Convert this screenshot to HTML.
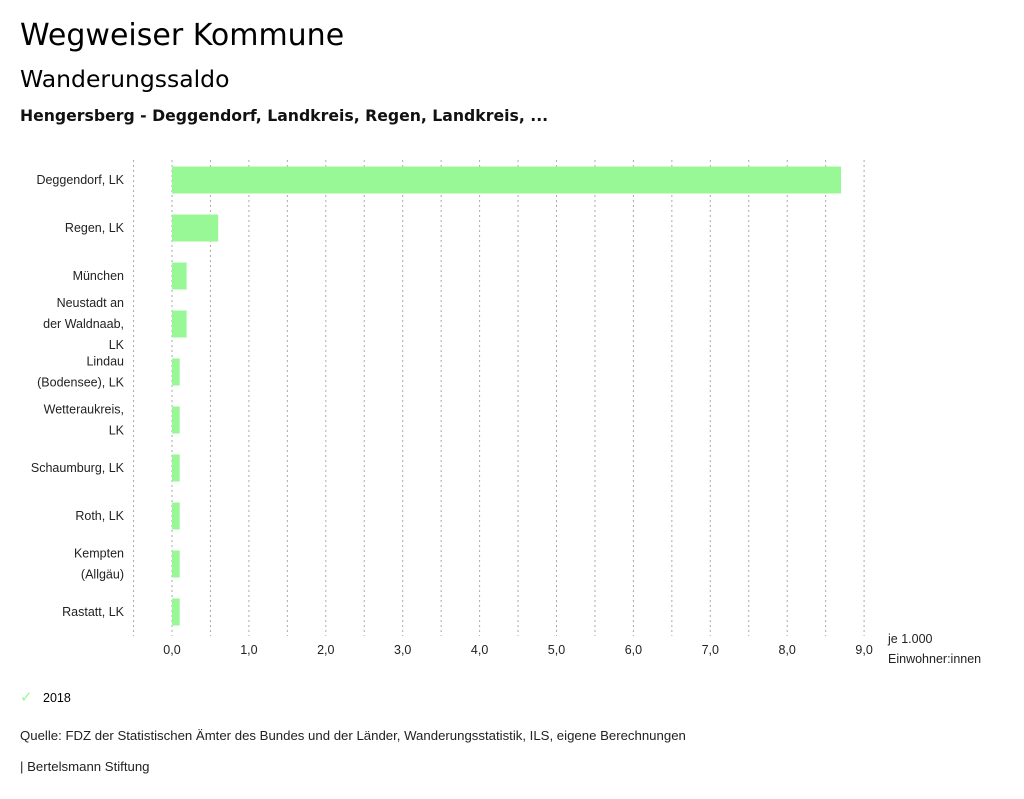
<!DOCTYPE html>
<html><head><meta charset="utf-8"><style>
body{margin:0;width:1024px;height:799px;background:#fff;font-family:"Liberation Sans",sans-serif;color:#000;overflow:hidden;position:relative}
.t{position:absolute;white-space:nowrap}
</style></head><body>
<div class="t" style="left:20px;top:18px;font-size:30px;font-family:'DejaVu Sans',sans-serif">Wegweiser Kommune</div>
<div class="t" style="left:20px;top:65px;font-size:23.5px;font-family:'DejaVu Sans',sans-serif">Wanderungssaldo</div>
<div class="t" style="left:20px;top:106px;font-size:15.7px;font-family:'DejaVu Sans',sans-serif;font-weight:bold;color:#111">Hengersberg - Deggendorf, Landkreis, Regen, Landkreis, ...</div>
<svg id="chart" width="1024" height="700" style="position:absolute;left:0;top:0" font-family="Liberation Sans, sans-serif"></svg>
<div class="t" style="left:20px;top:688px;font-size:12.5px"><span style="color:#98f896;font-size:15px">✓</span>&nbsp;&nbsp;&nbsp;2018</div>
<div class="t" style="left:20px;top:728px;font-size:13.2px;color:#222">Quelle: FDZ der Statistischen Ämter des Bundes und der Länder, Wanderungsstatistik, ILS, eigene Berechnungen</div>
<div class="t" style="left:20px;top:759px;font-size:13.2px;color:#222">| Bertelsmann Stiftung</div>
<script>
const categories=[["Deggendorf, LK"],["Regen, LK"],["München"],["Neustadt an","der Waldnaab,","LK"],["Lindau","(Bodensee), LK"],["Wetteraukreis,","LK"],["Schaumburg, LK"],["Roth, LK"],["Kempten","(Allgäu)"],["Rastatt, LK"]];
const values=[8.7,0.6,0.19,0.19,0.1,0.1,0.1,0.1,0.1,0.1];
const tickLabels=["0,0","1,0","2,0","3,0","4,0","5,0","6,0","7,0","8,0","9,0"];
const ns="http://www.w3.org/2000/svg";
const svg=document.getElementById('chart');
const x0=172,pxPer=76.9,top0=156,rowH=48,barH=27;
const X=v=>x0+v*pxPer;
const Y=i=>top0+i*rowH+rowH/2;
function mk(t,a){const e=document.createElementNS(ns,t);for(const k in a)e.setAttribute(k,a[k]);svg.appendChild(e);return e;}
for(let g=-0.5;g<=9.01;g+=0.5){
 const l=mk('line',{x1:X(g),x2:X(g),y1:160,y2:636,stroke:'#aaa','stroke-dasharray':'2,3','stroke-width':1});
 
 
}
tickLabels.forEach((t,i)=>{
 const e=mk('text',{x:X(i),y:654,'font-size':12.5,'text-anchor':'middle',fill:'#222'});e.textContent=t;
 
 
});
categories.forEach((lines,i)=>{
 const cy=Y(i);const n=lines.length;
 lines.forEach((s,j)=>{
  const e=mk('text',{x:124,y:cy+4+(j-(n-1)/2)*21,'font-size':12.5,'text-anchor':'end',fill:'#222'});e.textContent=s;
  
  
 });
 const r=mk('rect',{x:X(0),y:cy-barH/2,width:X(values[i])-X(0),height:barH,fill:'#98f896'});
 
 
});
const u1=mk('text',{x:888,y:643,'font-size':12.5,fill:'#222'});u1.textContent="je 1.000";


const u2=mk('text',{x:888,y:663,'font-size':12.5,fill:'#222'});u2.textContent="Einwohner:innen";


</script>
</body></html>
